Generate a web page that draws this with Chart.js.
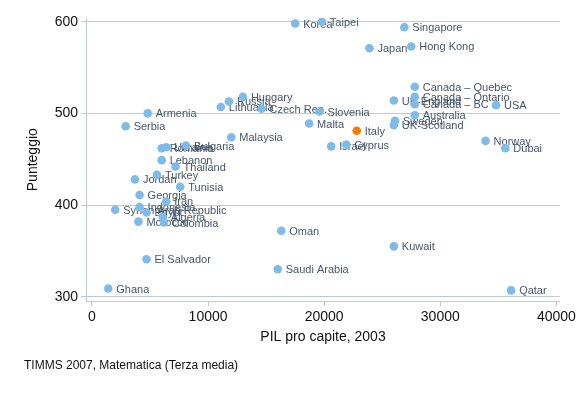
<!DOCTYPE html>
<html>
<head>
<meta charset="utf-8">
<script src="https://cdn.jsdelivr.net/npm/chart.js@4/dist/chart.umd.min.js"></script>
<style>
  html, body { margin: 0; padding: 0; background: #fff; }
  #wrap { width: 578px; height: 396px; position: relative; }
</style>
</head>
<body>
<div id="wrap"><canvas id="chart_canvas"></canvas></div>
<script>
// TIMSS 2007 (8th grade maths) vs GDP per capita 2003
const countries = [
	'Korea', 'Taipei', 'Singapore', 'Japan', 'Hong Kong',
	'Canada \u2013 Quebec', 'Canada \u2013 Ontario', 'Canada \u2013 BC', 'USA', 'UK-England',
	'Australia', 'Sweden', 'UK-Scotland', 'Slovenia', 'Malta',
	'Italy', 'Czech Rep.', 'Hungary', 'Russia', 'Lithuania',
	'Armenia', 'Serbia', 'Malaysia', 'Bulgaria', 'Romania',
	'Ukraine', 'Lebanon', 'Thailand', 'Turkey', 'Jordan',
	'Tunisia', 'Georgia', 'Iran', 'Indonesia', 'Syrian Arab Republic',
	'Egypt', 'Algeria', 'Colombia', 'Morocco', 'Cyprus',
	'Israel', 'Norway', 'Dubai', 'Oman', 'Kuwait',
	'Saudi Arabia', 'Qatar', 'El Salvador', 'Ghana'
];
const gdp = [
	17500, 19800, 26900, 23900, 27500,
	27800, 27800, 27800, 34800, 26000,
	27800, 26100, 26000, 19600, 18700,
	22800, 14600, 13000, 11800, 11100,
	4800, 2900, 12000, 8100, 6000,
	6400, 6000, 7200, 5600, 3700,
	7600, 4100, 6400, 4100, 2000,
	4700, 6100, 6200, 4000, 21900,
	20600, 33900, 35600, 16300, 26000,
	16000, 36100, 4700, 1400
];
const score = [
	598, 600, 594, 571, 573,
	529, 518, 510, 509, 514,
	498, 492, 487, 502, 489,
	481, 505, 518, 513, 507,
	500, 486, 474, 465, 462,
	463, 449, 442, 433, 428,
	420, 411, 404, 398, 395,
	392, 387, 381, 382, 466,
	464, 470, 462, 372, 355,
	330, 307, 341, 309
];
const x_ticks = [0, 10000, 20000, 30000, 40000];
const y_ticks = [300, 400, 500, 600];
const highlight = 'Italy';

const grid_color = '#bccbda';
const font_family = '"Liberation Sans", Arial, sans-serif';

const points = gdp.map((g, i) => ({ x: g, y: score[i] }));

// country names next to each marker
const pointLabels = {
	id: 'pointLabels',
	beforeDatasetsDraw(chart) {
		const c = chart.ctx;
		const meta = chart.getDatasetMeta(0);
		c.save();
		c.font = '11px ' + font_family;
		c.fillStyle = '#46566a';
		c.textBaseline = 'middle';
		meta.data.forEach((pt, i) => {
			c.fillText(countries[i], pt.x + 8, pt.y + 1);
		});
		c.restore();
	}
};

const caption = {
	id: 'caption',
	afterDraw(chart) {
		const c = chart.ctx;
		c.save();
		c.font = '12px ' + font_family;
		c.fillStyle = '#111';
		c.textBaseline = 'middle';
		c.fillText('TIMMS 2007, Matematica (Terza media)', 24, 366);
		c.restore();
	}
};

const ctx = document.getElementById('chart_canvas').getContext('2d');
new Chart(ctx, {
	type: 'scatter',
	data: {
		datasets: [{
			data: points,
			pointRadius: 4.3,
			pointHoverRadius: 4.3,
			borderWidth: 0,
			backgroundColor: c => countries[c.dataIndex] === highlight ? '#f57c00' : '#7fbbe8'
		}]
	},
	options: {
		responsive: true,
		maintainAspectRatio: false,
		animation: false,
		layout: { padding: { left: 25, right: 16, top: 18, bottom: 50 } },
		plugins: {
			legend: { display: false },
			tooltip: { enabled: false }
		},
		scales: {
			x: {
				type: 'linear',
				min: -500,
				max: 40300,
				afterBuildTicks: axis => { axis.ticks = x_ticks.map(v => ({ value: v })); },
				ticks: {
					callback: v => String(v),
					color: '#111',
					font: { size: 14, family: font_family },
					padding: 2,
					maxRotation: 0
				},
				grid: { drawOnChartArea: false, drawTicks: true, tickLength: 5, color: grid_color },
				border: { display: true, color: grid_color },
				title: {
					display: true,
					text: 'PIL pro capite, 2003',
					color: '#111',
					font: { size: 14, family: font_family },
					padding: { top: 2, bottom: 0 }
				}
			},
			y: {
				type: 'linear',
				min: 295,
				max: 604,
				afterBuildTicks: axis => { axis.ticks = y_ticks.map(v => ({ value: v })); },
				ticks: {
					color: '#111',
					font: { size: 14, family: font_family },
					padding: 3
				},
				grid: { drawOnChartArea: true, drawTicks: true, tickLength: 5, color: grid_color },
				border: { display: true, color: grid_color },
				title: {
					display: true,
					text: 'Punteggio',
					color: '#111',
					font: { size: 14, family: font_family },
					padding: { top: 0, bottom: 10 }
				}
			}
		}
	},
	plugins: [pointLabels, caption]
});
</script>
</body>
</html>
